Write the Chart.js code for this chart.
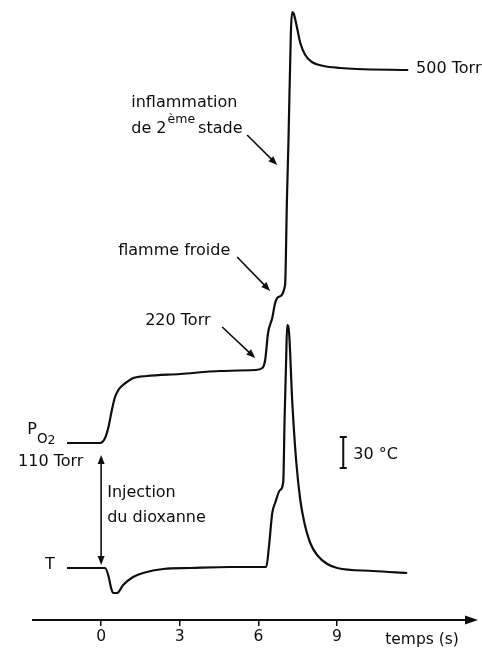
<!DOCTYPE html>
<html>
<head>
<meta charset="utf-8">
<script src="https://cdn.jsdelivr.net/npm/chart.js@4.4.1/dist/chart.umd.min.js"></script>
<style>
  html, body { margin: 0; padding: 0; background: #fff; }
  #wrap { width: 482px; height: 648px; }
</style>
</head>
<body>
<div id="wrap"><canvas id="trace" width="482" height="648"></canvas></div>
<script>
// time axis ticks (s)
const timeTicks = [0, 3, 6, 9];

// P(O2) record: time (s) and pen height above the time axis
const pressureTime  = [-1.30, -0.04, 0.15, 0.28, 0.41, 0.53, 0.66, 0.79, 0.98, 1.23, 1.74, 3.02, 4.54, 5.88, 6.15, 6.26, 6.37, 6.53, 6.64, 6.76, 7.02, 7.09, 7.15, 7.24, 7.29, 7.34, 7.47, 7.60, 7.79, 8.04, 8.49, 9.12, 9.75, 11.72];
const pressureLevel = [177, 177, 182, 193, 210, 223, 230, 234, 238, 242, 244, 246, 249, 250, 252, 260, 287, 302, 317, 323, 335, 420, 480, 587, 608, 607, 593, 577, 565, 558, 554, 552, 551, 550];

// temperature record
const tempTime  = [-1.30, 0.15, 0.27, 0.38, 0.46, 0.61, 0.84, 1.22, 1.60, 2.37, 3.40, 4.92, 6.30, 6.41, 6.53, 6.64, 6.83, 6.95, 7.00, 7.06, 7.10, 7.17, 7.29, 7.44, 7.60, 7.75, 7.98, 8.24, 8.63, 9.01, 10.38, 11.68];
const tempLevel = [52, 52, 45, 32, 27, 27, 35, 43, 47, 51, 52, 53, 53, 75, 107, 117, 130, 138, 200, 260, 295, 288, 220, 160, 120, 98, 77, 65, 56, 52, 49, 47];

const ink = '#0e0e0e';
const face = '"DejaVu Sans", sans-serif';

function toPoints(xs, ys) {
    return xs.map((t, i) => ({ x: t, y: ys[i] }));
}

function drawArrow(ctx, x1, y1, x2, y2, head = 9, half = 3.5) {
    const a = Math.atan2(y2 - y1, x2 - x1);
    ctx.beginPath();
    ctx.moveTo(x1, y1);
    ctx.lineTo(x2 - Math.cos(a) * head * 0.6, y2 - Math.sin(a) * head * 0.6);
    ctx.stroke();
    ctx.beginPath();
    ctx.moveTo(x2, y2);
    ctx.lineTo(x2 - Math.cos(a) * head - Math.sin(a) * half, y2 - Math.sin(a) * head + Math.cos(a) * half);
    ctx.lineTo(x2 - Math.cos(a) * head + Math.sin(a) * half, y2 - Math.sin(a) * head - Math.cos(a) * half);
    ctx.closePath();
    ctx.fill();
}

// labels, pointers, the injection marker and the 30 °C bar
const notes = {
    id: 'notes',
    afterDraw(chart) {
        const { ctx, chartArea, scales: { x, y } } = chart;
        const X = v => x.getPixelForValue(v);
        const Y = v => y.getPixelForValue(v);
        const font = size => `${size}px ${face}`;
        const text = (s, tx, ty, size = 16) => {
            ctx.font = font(size);
            ctx.fillText(s, X(tx), Y(ty));
            return ctx.measureText(s).width;
        };

        ctx.save();
        ctx.fillStyle = ink;
        ctx.strokeStyle = ink;
        ctx.lineWidth = 1.6;
        ctx.textBaseline = 'alphabetic';

        // axis arrow head
        const ay = chartArea.bottom;
        ctx.beginPath();
        ctx.moveTo(chartArea.right + 10, ay);
        ctx.lineTo(chartArea.right - 3, ay - 4.5);
        ctx.lineTo(chartArea.right - 3, ay + 4.5);
        ctx.closePath();
        ctx.fill();
        text('temps (s)', 10.84, -24, 15.5);

        // second stage ignition
        text('inflammation', 1.15, 513);
        let cx = X(1.15);
        ctx.font = font(16);
        ctx.fillText('de 2', cx, Y(487));
        cx += ctx.measureText('de 2').width + 1;
        ctx.font = font(12.5);
        ctx.fillText('ème', cx, Y(497));
        cx += ctx.measureText('ème').width + 3;
        ctx.font = font(16);
        ctx.fillText('stade', cx, Y(487));
        drawArrow(ctx, X(5.57), Y(485), X(6.72), Y(455));

        text('flamme froide', 0.65, 365);
        drawArrow(ctx, X(5.19), Y(363), X(6.45), Y(329));

        text('220 Torr', 1.68, 295);
        drawArrow(ctx, X(4.62), Y(293), X(5.88), Y(262));

        text('500 Torr', 12.02, 547);

        // P O2 with subscript
        const pw = text('P', -2.82, 186);
        ctx.font = font(13.5);
        ctx.fillText('O', X(-2.82) + pw, Y(177));
        const ow = ctx.measureText('O').width;
        ctx.font = font(12.5);
        ctx.fillText('2', X(-2.82) + pw + ow, Y(176));
        text('110 Torr', -3.17, 154);

        text('Injection', 0.23, 123);
        text('du dioxanne', 0.23, 98);
        text('T', -2.14, 51);

        // injection marker, double headed
        drawArrow(ctx, X(0), Y(110), X(0), Y(165), 9, 3.5);
        drawArrow(ctx, X(0), Y(110), X(0), Y(55), 9, 3.5);

        // 30 °C scale bar
        const bx = X(9.24);
        ctx.lineWidth = 2;
        ctx.beginPath();
        ctx.moveTo(bx, Y(183)); ctx.lineTo(bx, Y(152));
        ctx.moveTo(bx - 3.5, Y(183)); ctx.lineTo(bx + 3.5, Y(183));
        ctx.moveTo(bx - 3.5, Y(152)); ctx.lineTo(bx + 3.5, Y(152));
        ctx.stroke();
        text('30 °C', 9.62, 161);

        ctx.restore();
    }
};

const traceChart = new Chart(document.getElementById('trace'), {
    type: 'line',
    data: {
        datasets: [
            {
                label: 'PO2',
                data: toPoints(pressureTime, pressureLevel),
                borderColor: ink,
                borderWidth: 2.2,
                cubicInterpolationMode: 'monotone',
                pointRadius: 0,
                fill: false
            },
            {
                label: 'T',
                data: toPoints(tempTime, tempLevel),
                borderColor: ink,
                borderWidth: 2.2,
                cubicInterpolationMode: 'monotone',
                pointRadius: 0,
                fill: false
            }
        ]
    },
    options: {
        responsive: false,
        devicePixelRatio: 1,
        animation: false,
        layout: { padding: { left: 33, right: 14, top: 0, bottom: 0 } },
        plugins: { legend: { display: false }, tooltip: { enabled: false } },
        scales: {
            x: {
                type: 'linear',
                min: -2.6,
                max: 14.0,
                afterBuildTicks: scale => { scale.ticks = timeTicks.map(v => ({ value: v })); },
                afterFit: scale => { scale.height = 28; },
                border: { display: true, color: ink, width: 2 },
                grid: { display: true, drawOnChartArea: false, drawTicks: true, tickLength: 6, color: ink, lineWidth: 1.5 },
                ticks: { color: ink, font: { family: face, size: 15.5 }, padding: 2, maxRotation: 0, autoSkip: false }
            },
            y: {
                display: false,
                min: 0,
                max: 620
            }
        }
    },
    plugins: [notes]
});
</script>
</body>
</html>
